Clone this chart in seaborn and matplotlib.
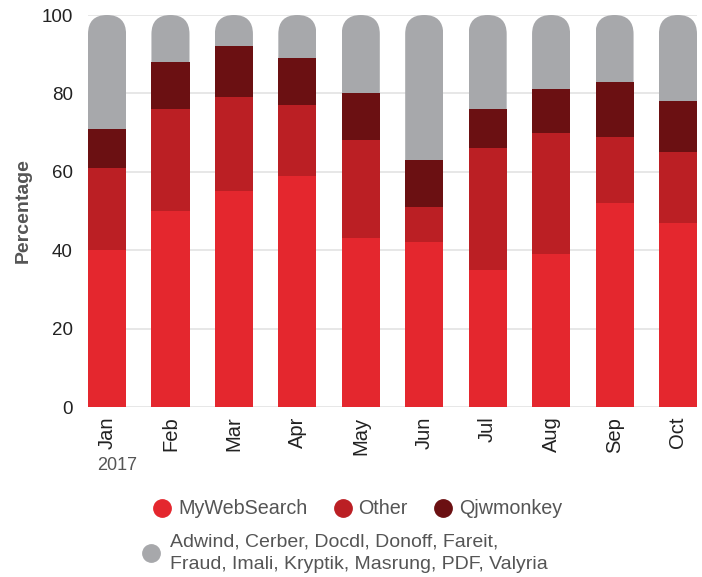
import numpy as np
import pandas as pd
import matplotlib
matplotlib.use('Agg')
import matplotlib.pyplot as plt
import seaborn as sns
from matplotlib.patches import FancyBboxPatch
from matplotlib.lines import Line2D
from matplotlib.transforms import IdentityTransform

months = ['Jan', 'Feb', 'Mar', 'Apr', 'May', 'Jun', 'Jul', 'Aug', 'Sep', 'Oct']
mywebsearch = [40, 50, 55, 59, 43, 42, 35, 39, 52, 47]
other = [21, 26, 24, 18, 25, 9, 31, 31, 17, 18]
qjwmonkey = [10, 12, 13, 12, 12, 12, 10, 11, 14, 13]
rest = [29, 12, 8, 11, 20, 37, 24, 19, 17, 22]

series_names = ['MyWebSearch', 'Other', 'Qjwmonkey',
                'Adwind, Cerber, Docdl, Donoff, Fareit,\nFraud, Imali, Kryptik, Masrung, PDF, Valyria']
colors = ['#e4272e', '#bb1f24', '#6b1012', '#a7a8ab']

df = pd.DataFrame({'Month': months, 'MyWebSearch': mywebsearch, 'Other': other,
                   'Qjwmonkey': qjwmonkey, 'Rest': rest})
# cumulative tops for the stacked bars
df['c1'] = df['MyWebSearch']
df['c2'] = df['c1'] + df['Other']
df['c3'] = df['c2'] + df['Qjwmonkey']
df['c4'] = df['c3'] + df['Rest']

sns.set_style('white')
plt.rcParams['font.family'] = ['Liberation Sans', 'DejaVu Sans']

fig = plt.figure(figsize=(7.02, 5.77), dpi=100)
ax = fig.add_axes([88 / 702, 1 - 407 / 577, 609 / 702, 392 / 577])

# draw from the top of the stack downwards
for col, c in zip(['c4', 'c3', 'c2', 'c1'], colors[::-1]):
    sns.barplot(x='Month', y=col, data=df, order=months, color=c, width=0.6,
                saturation=1, errorbar=None, linewidth=0, ax=ax)

ax.set_xlim(-0.3, 9.3)
ax.set_ylim(0, 100)
ax.set_yticks([0, 20, 40, 60, 80, 100])
ax.yaxis.grid(True, color='#e3e3e3', linewidth=1.2)
ax.set_axisbelow(True)
for s in ax.spines.values():
    s.set_visible(False)
ax.tick_params(axis='y', length=0, pad=11, labelsize=13.5, labelcolor='#222222')
ax.tick_params(axis='x', length=0, pad=7, labelsize=14.5, labelcolor='#222222')
plt.setp(ax.get_xticklabels(), rotation=90)
ax.set_xlabel('')
ax.set_ylabel('Percentage', fontsize=14, fontweight='bold', color='#555555')
ax.yaxis.set_label_coords(-0.093, 0.5)

fig.text(97 / 702, 1 - 465 / 577, '2017', ha='left', va='center', fontsize=13, color='#555555')

# round the top of the grey bars
fig.canvas.draw()
for bar in ax.containers[0]:
    bb = bar.get_window_extent()
    r = bb.width / 2
    clip = FancyBboxPatch((bb.x0, bb.y0 - r), bb.width, bb.height + r,
                          boxstyle=f'round,pad=0,rounding_size={r}',
                          transform=IdentityTransform())
    bar.set_clip_path(clip)

def dot(c):
    return Line2D([], [], marker='o', linestyle='none', markersize=12.5,
                  markerfacecolor=c, markeredgecolor=c)

leg1 = fig.legend([dot(c) for c in colors[:3]], series_names[:3], loc='center',
                  bbox_to_anchor=(0.509, 1 - 509 / 577), ncol=3, frameon=False,
                  fontsize=14.2, handletextpad=0.3, columnspacing=1.3, handlelength=1)
for t in leg1.get_texts():
    t.set_color('#555555')
leg2 = fig.legend([dot(colors[3])], [series_names[3]], loc='center',
                  bbox_to_anchor=(0.491, 1 - 553 / 577), frameon=False,
                  fontsize=14, handletextpad=0.5, handlelength=1)
for t in leg2.get_texts():
    t.set_color('#555555')
    t.set_linespacing(1.45)

plt.savefig('out.png', dpi=100)
plt.close()
